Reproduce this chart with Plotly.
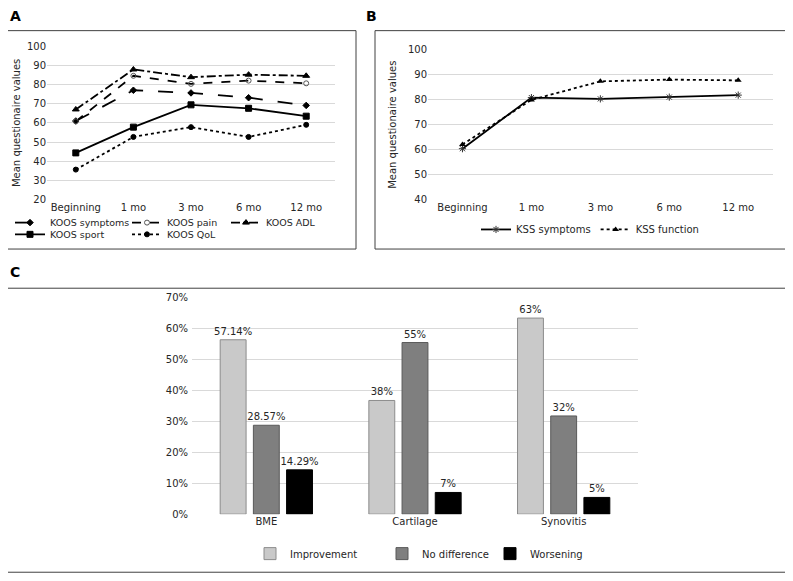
import plotly.graph_objects as go

# ── Data ──
timepoints = ['Beginning', '1 mo', '3 mo', '6 mo', '12 mo']

koos_symptoms = [61.0, 77.0, 75.6, 73.1, 69.1]
koos_pain     = [60.8, 84.5, 80.3, 82.0, 80.6]
koos_adl      = [67.0, 87.8, 83.8, 85.1, 84.5]
koos_sport    = [44.4, 57.8, 69.4, 67.6, 63.5]
koos_qol      = [35.7, 52.7, 57.8, 52.7, 59.0]

kss_symptoms = [60.4, 80.8, 80.3, 81.0, 81.8]
kss_function = [62.1, 79.9, 87.3, 88.0, 87.7]

mri_categories = ['BME', 'Cartilage', 'Synovitis']
improvement    = [56.3, 36.7, 63.3]
no_difference  = [28.7, 55.4, 31.7]
worsening      = [14.3, 7.0, 5.4]
improvement_lbl   = ['57.14%', '38%', '63%']
no_difference_lbl = ['28.57%', '55%', '32%']
worsening_lbl     = ['14.29%', '7%', '5%']

W, H = 793, 581
OFF = 8          # page body margin shifts the figure by this much
FONT = 'DejaVu Sans'
TXT = '#262626'
GRID = '#d9d9d9'


def px(x):
    return (x - OFF) / W


def py(y):
    return 1 - (y - OFF) / H


fig = go.Figure()

# ── Panel A: KOOS ──  (one legend per entry so each sits where the original has it)
koos = [
    ('KOOS symptoms', koos_symptoms, 'longdash', 'diamond', 5, 'black', 'legend'),
    ('KOOS pain',     koos_pain,     'dash',     'circle-open', 5, '#555555', 'legend4'),
    ('KOOS ADL',      koos_adl,      'dashdot',  'triangle-up', 6, 'black', 'legend5'),
    ('KOOS sport',    koos_sport,    'solid',    'square', 6, 'black', 'legend6'),
    ('KOOS QoL',      koos_qol,      'dot',      'circle', 5, 'black', 'legend7'),
]
for name, vals, dash, sym, size, mcol, leg in koos:
    fig.add_trace(go.Scatter(
        x=timepoints, y=vals, name=name, mode='lines+markers',
        line=dict(color='black', width=1.8, dash=dash),
        marker=dict(symbol=sym, size=size, color=mcol, line=dict(color=mcol, width=1)),
        xaxis='x', yaxis='y', legend=leg, showlegend=True))

# ── Panel B: KSS ──
fig.add_trace(go.Scatter(
    x=timepoints, y=kss_symptoms, name='KSS symptoms', mode='lines+markers',
    line=dict(color='black', width=1.8),
    marker=dict(symbol='asterisk-open', size=6, color='#333333', line=dict(color='#333333', width=1)),
    xaxis='x2', yaxis='y2', legend='legend2'))
fig.add_trace(go.Scatter(
    x=timepoints, y=kss_function, name='KSS function', mode='lines+markers',
    line=dict(color='black', width=1.8, dash='dot'),
    marker=dict(symbol='triangle-up', size=6, color='black'),
    xaxis='x2', yaxis='y2', legend='legend2'))

# ── Panel C: MRI changes ──
bars = [
    ('Improvement',   improvement,   improvement_lbl,   '#c9c9c9', '#8c8c8c', 'legend3'),
    ('No difference', no_difference, no_difference_lbl, '#7f7f7f', '#595959', 'legend8'),
    ('Worsening',     worsening,     worsening_lbl,     '#000000', '#000000', 'legend9'),
]
for name, vals, lbls, col, edge, leg in bars:
    fig.add_trace(go.Bar(
        x=mri_categories, y=vals, name=name, text=lbls,
        textposition='outside', textfont=dict(size=10, color=TXT),
        constraintext='none', cliponaxis=False,
        marker=dict(color=col, line=dict(color=edge, width=1)),
        xaxis='x3', yaxis='y3', legend=leg))

axis_font = dict(family=FONT, size=10, color=TXT)


def leg(x, y, size=10, anchor='left'):
    return dict(orientation='h', x=px(x), y=py(y), xanchor=anchor, yanchor='middle',
                itemwidth=30, font=dict(family=FONT, size=size, color=TXT),
                bgcolor='rgba(0,0,0,0)')


fig.update_layout(
    width=W, height=H, margin=dict(l=0, r=0, t=0, b=0),
    paper_bgcolor='white', plot_bgcolor='white', showlegend=True,
    font=dict(family=FONT, size=10, color=TXT),
    barmode='group', bargap=0.33, bargroupgap=0.22,
    xaxis=dict(domain=[px(47), px(335)], anchor='y', range=[-0.5, 4.5],
               showgrid=False, showline=False, ticks='', tickfont=axis_font),
    yaxis=dict(domain=[py(197.7), py(40.7)], anchor='x', range=[20, 100], dtick=10,
               showgrid=True, gridcolor=GRID, zeroline=False, showline=False,
               tickfont=axis_font,
               title=dict(text='Mean questionaire values', font=axis_font, standoff=4)),
    xaxis2=dict(domain=[px(428), px(772.7)], anchor='y2', range=[-0.5, 4.5],
                showgrid=False, showline=False, ticks='', tickfont=axis_font),
    yaxis2=dict(domain=[py(197.7), py(44.3)], anchor='x2', range=[40, 100], dtick=10,
                showgrid=True, gridcolor=GRID, zeroline=False, showline=False,
                tickfont=axis_font,
                title=dict(text='Mean questionaire values', font=axis_font, standoff=9)),
    xaxis3=dict(domain=[px(192), px(638)], anchor='y3',
                showgrid=False, showline=False, ticks='', tickfont=axis_font),
    yaxis3=dict(domain=[py(518.7), py(297.3)], anchor='x3', range=[0, 70], dtick=10,
                ticksuffix='%', showgrid=True, gridcolor=GRID, zeroline=False,
                showline=False, tickfont=axis_font, ticklabelstandoff=3),
    legend=leg(10, 221, 9.5),
    legend4=leg(127, 221, 9.5),
    legend5=leg(226, 221, 9.5),
    legend6=leg(10, 233, 9.5),
    legend7=leg(127, 233, 9.5),
    legend2=leg(590, 228, 10, 'center'),
    legend3=leg(250, 559),
    legend8=leg(382, 559),
    legend9=leg(490, 559),
)

# ── Panel frames & letters ──
for x0, y0, x1, y1 in [(4, 25, 356, 248), (375, 25, 787, 248), (4, 288, 787, 578)]:
    fig.add_shape(type='rect', xref='paper', yref='paper',
                  x0=px(x0), x1=px(x1), y0=py(y1), y1=py(y0),
                  line=dict(color='#404040', width=1), fillcolor='rgba(0,0,0,0)')
for letter, x, y in [('A', OFF, 10), ('B', 364, 10), ('C', OFF, 271)]:
    fig.add_annotation(text=f'<b>{letter}</b>', xref='paper', yref='paper',
                       x=px(x), y=py(y), xanchor='left', yanchor='middle',
                       showarrow=False, font=dict(family=FONT, size=14, color='black'))

fig.write_html('out.html')
